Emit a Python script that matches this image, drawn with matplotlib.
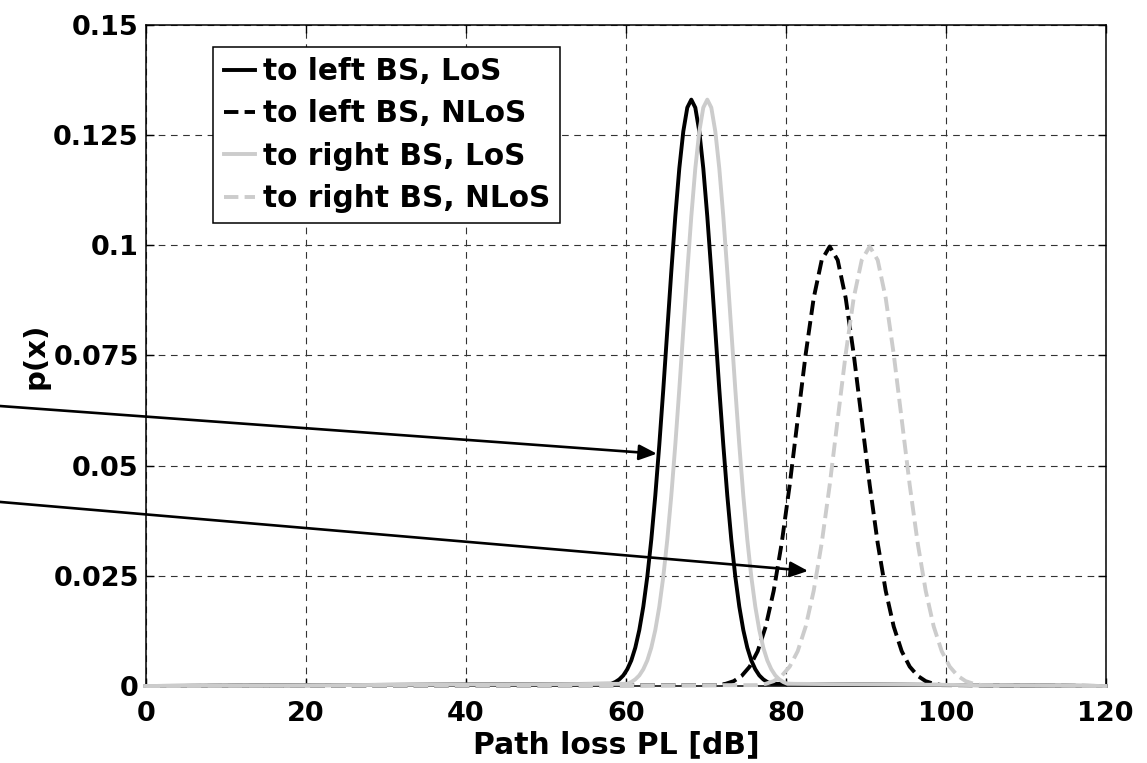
import matplotlib
matplotlib.use("Agg")
import matplotlib.pyplot as plt
import numpy as np

# ---- Data ----
# pdf of path loss, x in dB
x_left_los = np.arange(58.2, 78.3, 0.5)
p_left_los = [0.0005, 0.0009, 0.0015, 0.0024, 0.0038, 0.0058, 0.0087, 0.0127,
              0.0180, 0.0248, 0.0332, 0.0432, 0.0547, 0.0673, 0.0807, 0.0940,
              0.1065, 0.1174, 0.1258, 0.1312, 0.1330, 0.1312, 0.1258, 0.1174,
              0.1065, 0.0940, 0.0807, 0.0673, 0.0547, 0.0432, 0.0332, 0.0248,
              0.0180, 0.0127, 0.0087, 0.0058, 0.0038, 0.0024, 0.0015, 0.0009,
              0.0005]

x_right_los = np.arange(60.2, 80.3, 0.5)
p_right_los = [0.0005, 0.0009, 0.0015, 0.0024, 0.0038, 0.0058, 0.0087, 0.0127,
               0.0180, 0.0248, 0.0332, 0.0432, 0.0547, 0.0673, 0.0807, 0.0940,
               0.1065, 0.1174, 0.1258, 0.1312, 0.1330, 0.1312, 0.1258, 0.1174,
               0.1065, 0.0940, 0.0807, 0.0673, 0.0547, 0.0432, 0.0332, 0.0248,
               0.0180, 0.0127, 0.0087, 0.0058, 0.0038, 0.0024, 0.0015, 0.0009,
               0.0005]

x_left_nlos = np.arange(71.5, 99.6, 1.0)
p_left_nlos = [0.0002, 0.0005, 0.0011, 0.0023, 0.0044, 0.0079, 0.0135, 0.0216,
               0.0324, 0.0456, 0.0605, 0.0753, 0.0880, 0.0966, 0.0997, 0.0966,
               0.0880, 0.0753, 0.0605, 0.0456, 0.0324, 0.0216, 0.0135, 0.0079,
               0.0044, 0.0023, 0.0011, 0.0005, 0.0002]

x_right_nlos = np.arange(76.5, 104.6, 1.0)
p_right_nlos = [0.0002, 0.0005, 0.0011, 0.0023, 0.0044, 0.0079, 0.0135, 0.0216,
                0.0324, 0.0456, 0.0605, 0.0753, 0.0880, 0.0966, 0.0997, 0.0966,
                0.0880, 0.0753, 0.0605, 0.0456, 0.0324, 0.0216, 0.0135, 0.0079,
                0.0044, 0.0023, 0.0011, 0.0005, 0.0002]

labels = ["to left BS, LoS", "to left BS, NLoS",
          "to right BS, LoS", "to right BS, NLoS"]

X_RANGE = (0, 120)
x_ticks = [0, 20, 40, 60, 80, 100, 120]
y_ticks = [0, 0.025, 0.05, 0.075, 0.1, 0.125, 0.15]
y_tick_labels = ["0", "0.025", "0.05", "0.075", "0.1", "0.125", "0.15"]

# arrows: (tail x, tail y) -> (head x, head y), data units
arrow_tails = [(-25, 0.0644), (-25, 0.0428)]
arrow_heads = [(63.9, 0.0527), (82.8, 0.0261)]


def full_range(x, p):
    # pad each curve with zeros out to the axis limits
    xs = np.concatenate([[X_RANGE[0]], x, [X_RANGE[1]]])
    ps = np.concatenate([[0.0], p, [0.0]])
    return xs, ps


plt.rcParams["font.family"] = ["DejaVu Sans"]
plt.rcParams["font.weight"] = "bold"

GREY = "#cccccc"
LW = 2.8
TICK_FS = 19.5
LEG_FS = 21.3

fig = plt.figure(figsize=(11.47, 7.63), dpi=100)
ax = fig.add_axes([145.7 / 1147, 77 / 763, 960 / 1147, 661.3 / 763])

series = [
    (x_left_los, p_left_los, "k", "-"),
    (x_left_nlos, p_left_nlos, "k", "--"),
    (x_right_los, p_right_los, GREY, "-"),
    (x_right_nlos, p_right_nlos, GREY, "--"),
]
for (x, p, color, ls), lab in zip(series, labels):
    xs, ps = full_range(x, p)
    ax.plot(xs, ps, color=color, linestyle=ls, linewidth=LW, label=lab,
            clip_on=False, zorder=3)

for tail, head in zip(arrow_tails, arrow_heads):
    ax.annotate("", xy=head, xytext=tail, xycoords="data", textcoords="data",
                annotation_clip=False,
                arrowprops=dict(arrowstyle="-|>,head_length=0.54,head_width=0.235",
                                mutation_scale=20, lw=1.9, color="k",
                                shrinkA=0, shrinkB=0),
                zorder=4)

ax.set_xlim(*X_RANGE)
ax.set_ylim(0, 0.15)
ax.set_xticks(x_ticks)
ax.set_yticks(y_ticks)
ax.set_yticklabels(y_tick_labels)
ax.tick_params(direction="in", top=True, right=True, length=6, width=1,
               labelsize=TICK_FS)
ax.tick_params(axis="x", pad=11)
ax.tick_params(axis="y", pad=5)
for lab in ax.get_xticklabels() + ax.get_yticklabels():
    lab.set_fontweight("bold")
for sp in ax.spines.values():
    sp.set_linewidth(1.1)

ax.grid(True, color="#333333", linestyle=(0, (6, 5)), linewidth=0.8)
ax.set_axisbelow(True)

ax.set_xlabel("Path loss PL [dB]", fontsize=21.5, fontweight="bold")
ax.xaxis.set_label_coords(0.4906, -0.0665)
ax.set_ylabel("p(x)", fontsize=21, fontweight="bold")
ax.yaxis.set_label_coords(-0.0997, 0.5)

leg = ax.legend(loc="upper left", bbox_to_anchor=(0.0704, 0.9667),
                borderaxespad=0, fontsize=LEG_FS, handlelength=1.05,
                handletextpad=0.27, labelspacing=0.45, borderpad=0.35,
                fancybox=False, framealpha=1, edgecolor="k")
leg.get_frame().set_linewidth(1.1)
for t in leg.get_texts():
    t.set_fontweight("bold")
leg.set_zorder(5)

fig.savefig("out.png", dpi=100)
